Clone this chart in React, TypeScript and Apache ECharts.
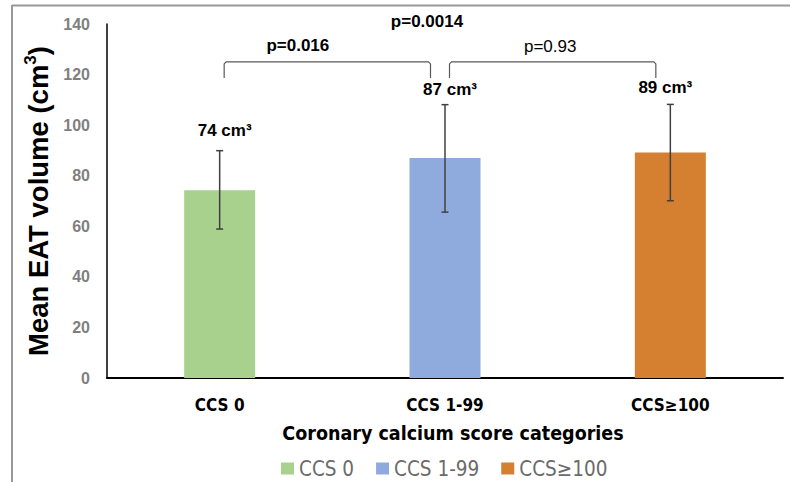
import React, { useEffect, useRef } from "react";
import * as echarts from "echarts";

const categories = ["CCS 0", "CCS 1-99", "CCS≥100"];
const means = [74.3, 87.0, 89.2];
const errLow = [58.9, 65.6, 70.1];
const errHigh = [89.9, 108.1, 108.2];
const valueLabels = ["74 cm³", "87 cm³", "89 cm³"];
const barColors = ["#A9D18E", "#8FAADC", "#D58030"];
const yMin = 0;
const yMax = 140;
const yInterval = 20;

const comparisonFrom = [0, 1, 0];
const comparisonTo = [1, 2, 2];
const comparisonLabels = ["p=0.016", "p=0.93", "p=0.0014"];
const comparisonBold = [true, false, true];
const comparisonHasBracket = [true, true, false];
const bracketTop = 125;
const bracketLeg = 118.6;

// style nudges (pixels)
const labelDx = [5, 5, -5];
const labelDy = [20, 15, 17];
const pTextDx = [-34.5, -7.5, -18];
const pTextDy = [-16, -15, -40];

const ARIAL = "'Liberation Sans', Arial, sans-serif";
const NARROW = "'Liberation Sans Narrow', 'Arial Narrow', 'DejaVu Sans Condensed', sans-serif";

export default function App() {
  const ref = useRef<HTMLDivElement>(null);
  useEffect(() => {
    if (!ref.current) return;
    const chart = echarts.init(ref.current, null, { renderer: "svg" });
    const barSeries = categories.map((c, i) => ({
      type: "bar",
      name: c,
      stack: "all",
      barWidth: 71,
      data: categories.map((_, j) => (j === i ? means[i] : "-")),
      itemStyle: { color: barColors[i] },
    }));
    const option: any = {
      animation: false,
      backgroundColor: "#ffffff",
      grid: { left: 107, right: 7, top: 24, bottom: 104 },
      legend: {
        data: categories,
        left: 276,
        top: 453,
        icon: "rect",
        itemWidth: 13,
        itemHeight: 12,
        itemGap: 22,
        textStyle: { fontFamily: NARROW, fontSize: 20.5, color: "#6b6b6b" },
      },
      xAxis: {
        type: "category",
        data: categories,
        axisLine: { lineStyle: { color: "#000", width: 2 } },
        axisTick: { show: false },
        axisLabel: { margin: 18, fontFamily: NARROW, fontWeight: "bold", fontSize: 17, color: "#000" },
        name: "Coronary calcium score categories",
        nameLocation: "middle",
        nameGap: 45,
        nameTextStyle: { fontFamily: NARROW, fontWeight: "bold", fontSize: 19.5, color: "#000", padding: [0, 0, 0, 16] },
      },
      yAxis: {
        type: "value",
        min: yMin,
        max: yMax,
        interval: yInterval,
        splitLine: { show: false },
        axisTick: { show: false },
        axisLine: { show: true, lineStyle: { color: "#000", width: 1.5 } },
        axisLabel: { margin: 17, fontFamily: ARIAL, fontWeight: "bold", fontSize: 16, color: "#7f7f7f" },
        name: "{a|Mean EAT volume (cm}{s|3}{a|)}",
        nameLocation: "middle",
        nameGap: 50,
        nameTextStyle: {
          rich: {
            a: { fontFamily: ARIAL, fontWeight: "bold", fontSize: 27.5, color: "#000", lineHeight: 32 },
            s: { fontFamily: ARIAL, fontWeight: "bold", fontSize: 17, color: "#000", lineHeight: 20, verticalAlign: "top" },
          },
        },
      },
      graphic: [
        { type: "line", shape: { x1: 12, y1: 5.5, x2: 790, y2: 5.5 }, style: { stroke: "#999", lineWidth: 2 } },
        { type: "line", shape: { x1: 12, y1: 5, x2: 12, y2: 482 }, style: { stroke: "#999", lineWidth: 2 } },
      ],
      series: [
        ...barSeries,
        {
          type: "custom",
          z: 10,
          silent: true,
          encode: { x: 0, y: [1, 2] },
          data: categories.map((_, i) => [i, errLow[i], errHigh[i]]),
          renderItem: (params: any, api: any) => {
            const i = params.dataIndex;
            const x = api.value(0);
            const lo = api.coord([x, api.value(1)]);
            const hi = api.coord([x, api.value(2)]);
            const hw = 3.5;
            const st = { stroke: "#404040", lineWidth: 1.5 };
            return {
              type: "group",
              children: [
                { type: "line", shape: { x1: lo[0], y1: lo[1], x2: hi[0], y2: hi[1] }, style: st },
                { type: "line", shape: { x1: hi[0] - hw, y1: hi[1], x2: hi[0] + hw, y2: hi[1] }, style: st },
                { type: "line", shape: { x1: lo[0] - hw, y1: lo[1], x2: lo[0] + hw, y2: lo[1] }, style: st },
                {
                  type: "text",
                  x: hi[0] + labelDx[i],
                  y: hi[1] - labelDy[i],
                  style: {
                    text: valueLabels[i],
                    fontFamily: ARIAL,
                    fontWeight: "bold",
                    fontSize: 17,
                    fill: "#000",
                    align: "center",
                    verticalAlign: "middle",
                  },
                },
              ],
            };
          },
        },
        {
          type: "custom",
          z: 10,
          silent: true,
          encode: { x: [0, 1], y: 2 },
          data: comparisonFrom.map((f, k) => [f, comparisonTo[k], bracketTop, bracketLeg]),
          renderItem: (params: any, api: any) => {
            const k = params.dataIndex;
            const a = api.coord([api.value(0), api.value(2)]);
            const b = api.coord([api.value(1), api.value(2)]);
            const legY = api.coord([api.value(0), api.value(3)])[1];
            const xl = a[0] + 4.5;
            const xr = b[0] - 14.5;
            const y = a[1];
            const children: any[] = [];
            if (comparisonHasBracket[k]) {
              children.push({
                type: "polyline",
                shape: { points: [[xl, legY], [xl, y + 2], [xl + 2, y], [xr - 2, y], [xr, y + 2], [xr, legY]] },
                style: { stroke: "#595959", lineWidth: 1.2, fill: "none" },
              });
            }
            children.push({
              type: "text",
              x: (a[0] + b[0]) / 2 + pTextDx[k],
              y: y + pTextDy[k],
              style: {
                text: comparisonLabels[k],
                fontFamily: ARIAL,
                fontWeight: comparisonBold[k] ? "bold" : "normal",
                fontSize: 17,
                fill: "#000",
                align: "center",
                verticalAlign: "middle",
              },
            });
            return { type: "group", children };
          },
        },
      ],
    };
    chart.setOption(option);
    return () => chart.dispose();
  }, []);
  return <div ref={ref} style={{ position: "absolute", left: 0, top: 0, width: 790, height: 482 }} />;
}
